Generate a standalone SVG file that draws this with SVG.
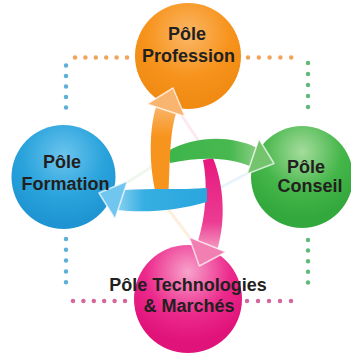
<svg xmlns="http://www.w3.org/2000/svg" width="351" height="355" viewBox="0 0 351 355">
<defs>
<style>
.lbl{font-family:"Liberation Sans",Arial,sans-serif;font-weight:bold;font-size:18px;fill:#231f20;text-anchor:middle}
.dot{fill:none;stroke-width:4.5;stroke-linecap:round}
.hd{stroke:#fff;stroke-opacity:0.7;stroke-width:1.5;stroke-linejoin:round}
.ghost{fill:none;stroke-width:3;stroke-linecap:round;opacity:0.2}
</style>
<radialGradient id="gO" cx="50%" cy="30%" r="65%"><stop offset="0" stop-color="#fbb768"/><stop offset="0.6" stop-color="#f7941d"/><stop offset="1" stop-color="#f08a12"/></radialGradient>
<radialGradient id="gB" cx="50%" cy="30%" r="65%"><stop offset="0" stop-color="#6cc5ee"/><stop offset="0.6" stop-color="#2aa3dc"/><stop offset="1" stop-color="#1e95d2"/></radialGradient>
<radialGradient id="gG" cx="50%" cy="25%" r="65%"><stop offset="0" stop-color="#a5dc9d"/><stop offset="0.6" stop-color="#45b649"/><stop offset="1" stop-color="#33a83d"/></radialGradient>
<radialGradient id="gP" cx="50%" cy="25%" r="65%"><stop offset="0" stop-color="#f7a3cb"/><stop offset="0.6" stop-color="#ec2a8c"/><stop offset="1" stop-color="#e0137a"/></radialGradient>
<linearGradient id="aO" x1="0" y1="1" x2="0" y2="0"><stop offset="0" stop-color="#f7941d"/><stop offset="0.7" stop-color="#f7941d"/><stop offset="1" stop-color="#fab46a"/></linearGradient>
<linearGradient id="aG" x1="0" y1="0" x2="1" y2="0"><stop offset="0" stop-color="#3db54a"/><stop offset="0.7" stop-color="#47b84f"/><stop offset="1" stop-color="#86cd80"/></linearGradient>
<linearGradient id="aP" x1="0" y1="0" x2="0" y2="1"><stop offset="0" stop-color="#e6197d"/><stop offset="0.7" stop-color="#ec3b92"/><stop offset="1" stop-color="#f49ac1"/></linearGradient>
<linearGradient id="aB" x1="1" y1="0" x2="0" y2="0"><stop offset="0" stop-color="#2aa6de"/><stop offset="0.7" stop-color="#36aee2"/><stop offset="1" stop-color="#86d0f0"/></linearGradient>
</defs>
<rect width="351" height="355" fill="#ffffff"/>
<g id="dotted-frame">
<line class="dot" x1="75" y1="57.5" x2="127" y2="57.5" stroke="#f2a35c" stroke-dasharray="0 10.4"/>
<line class="dot" x1="248" y1="57.5" x2="302" y2="57.5" stroke="#f2a35c" stroke-dasharray="0 10.8"/>
<line class="dot" x1="66" y1="65.5" x2="66" y2="118" stroke="#5eb0d8" stroke-dasharray="0 10.5"/>
<line class="dot" x1="66" y1="239" x2="66" y2="293" stroke="#5eb0d8" stroke-dasharray="0 10.8"/>
<line class="dot" x1="308" y1="63" x2="308" y2="118" stroke="#62ba78" stroke-dasharray="0 11"/>
<line class="dot" x1="308" y1="240" x2="308" y2="293" stroke="#62ba78" stroke-dasharray="0 10.6"/>
<line class="dot" x1="73" y1="301" x2="125" y2="301" stroke="#d4689e" stroke-dasharray="0 10.4"/>
<line class="dot" x1="247" y1="301" x2="302" y2="301" stroke="#d4689e" stroke-dasharray="0 11"/>
</g>
<g id="node-profession"><circle cx="188" cy="56" r="53" fill="url(#gO)"/></g>
<g id="node-formation"><circle cx="63.5" cy="177" r="52" fill="url(#gB)"/></g>
<g id="node-conseil"><circle cx="302" cy="177" r="51" fill="url(#gG)"/></g>
<g id="node-technologies"><circle cx="188" cy="299" r="54" fill="url(#gP)"/></g>
<g id="connectors">
<g class="ghosts">
<line class="ghost" x1="182" y1="116" x2="215" y2="165" stroke="#f090c0"/>
<line class="ghost" x1="165" y1="205" x2="193" y2="242" stroke="#f7b060"/>
<line class="ghost" x1="210" y1="193" x2="250" y2="172" stroke="#90c8e8"/>
<line class="ghost" x1="168" y1="157" x2="126" y2="183" stroke="#b0d8b0"/>
</g>
<g id="arrow-to-technologies">
<path d="M203,160 C208,185 206,215 198,241 L217.5,249 C226,220 224,185 213,158 Z" fill="url(#aP)"/>
<path class="hd" d="M189,237 L226,252 L199.3,266 Z" fill="#f27fb2"/>
</g>
<g id="arrow-to-conseil">
<path d="M168,151 C195,136 230,135 256,147.5 L249.5,166 C228,157 200,157 170,163 Z" fill="url(#aG)"/>
<path class="hd" d="M259,139 L247,174 L274,163.5 Z" fill="#74c46e"/>
</g>
<g id="arrow-to-profession">
<path d="M159,205 C148,170 149,130 156,107 L176,113.5 C169,135 170,170 168,205 Z" fill="url(#aO)"/>
<path class="hd" d="M147,104 L185,116.5 L173,88 Z" fill="#f9b470"/>
</g>
<g id="arrow-to-formation">
<path d="M207,188 C180,190 150,188 124.5,190 L117.5,210 C145,213.5 180,210 207,202 Z" fill="url(#aB)"/>
<path class="hd" d="M127.5,181 L115,219 L99,193 Z" fill="#70c6ee"/>
</g>
</g>
<g id="labels">
<text class="lbl" x="187" y="40">Pôle</text>
<text class="lbl" x="188.5" y="61.5">Profession</text>
<text class="lbl" x="62" y="168">Pôle</text>
<text class="lbl" x="65.5" y="189.5">Formation</text>
<text class="lbl" x="306" y="173">Pôle</text>
<text class="lbl" x="310" y="191.5">Conseil</text>
<text class="lbl" x="188" y="291">Pôle Technologies</text>
<text class="lbl" x="189" y="312">&amp; Marchés</text>
</g>
</svg>
